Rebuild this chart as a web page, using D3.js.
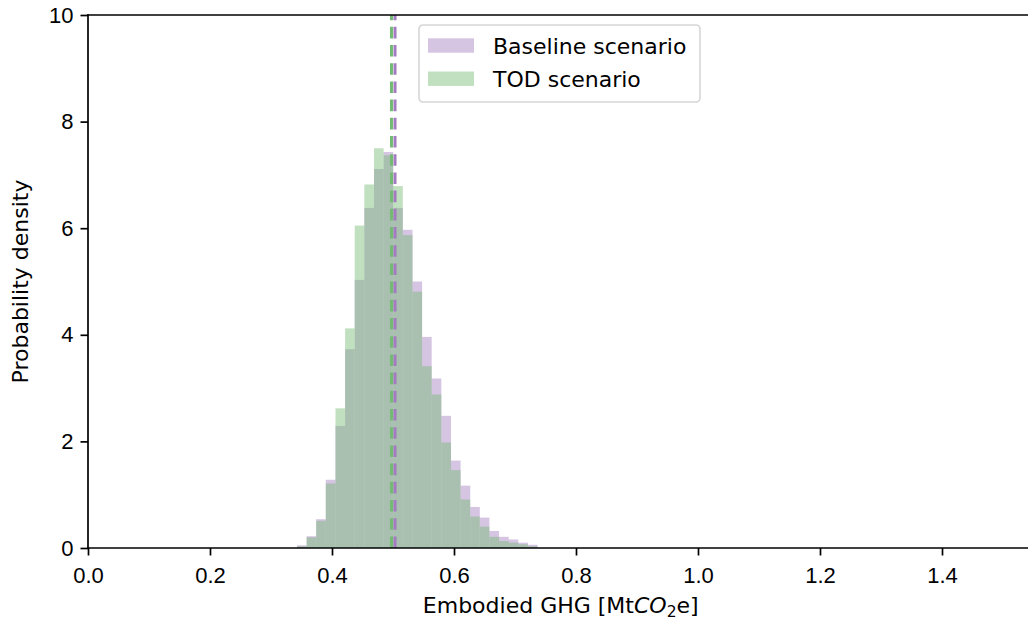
<!DOCTYPE html>
<html>
<head>
<meta charset="utf-8">
<script src="https://cdn.jsdelivr.net/npm/d3@7"></script>
<style>
  body { margin: 0; background: #fff; }
  svg { display: block; font-family: "DejaVu Sans", sans-serif; }
  .tick text { font-size: 22px; fill: #000; }
</style>
</head>
<body>
<svg width="1028" height="622"></svg>
<script>
//bin edges shared by both histograms (MtCO2e)
var binEdges = [0.3426, 0.3584, 0.3741, 0.3898, 0.4057, 0.4215, 0.4372, 0.4530, 0.4689,
    0.4846, 0.5003, 0.5161, 0.5320, 0.5477, 0.5634, 0.5792, 0.5951, 0.6108, 0.6266,
    0.6423, 0.6580, 0.6739, 0.6897, 0.7054, 0.7211, 0.7370];

//probability density per bin
var baselineDensity = [0.05, 0.22, 0.54, 1.28, 2.29, 3.73, 5.03, 6.38, 7.11, 7.43, 6.38, 5.97,
    5.00, 3.96, 3.18, 2.48, 1.64, 1.17, 0.77, 0.57, 0.32, 0.21, 0.16, 0.10, 0.06];
var todDensity = [0.03, 0.20, 0.51, 1.21, 2.62, 4.12, 6.05, 6.82, 7.50, 7.37, 6.79, 5.87,
    4.81, 3.41, 2.88, 1.98, 1.46, 0.91, 0.59, 0.40, 0.21, 0.13, 0.10, 0.07, 0.03];

//means (dashed lines)
var baselineMean = 0.5033,
    todMean = 0.4975;

var xTicks = [0.0, 0.2, 0.4, 0.6, 0.8, 1.0, 1.2, 1.4],
    yTicks = [0, 2, 4, 6, 8, 10];

var seriesNames = ["Baseline scenario", "TOD scenario"];

//colors
var purple = "rgb(162,124,191)",
    green = "rgb(115,186,115)",
    fillAlpha = 0.45;

var svg = d3.select("svg"),
    margin = {"left": 88, "top": 15, "right": 1033.5, "bottom": 548},
    xMax = 1.55;

//scales
var scaleX = d3.scaleLinear()
    .domain([0, xMax])
    .range([margin.left, margin.right]);
var scaleY = d3.scaleLinear()
    .domain([0, 10])
    .range([margin.bottom, margin.top]);

//histograms
function drawHist(values, color) {
    var g = svg.append("g");
    g.selectAll("rect")
        .data(values)
        .enter().append("rect")
        .attr("x", (d, i) => scaleX(binEdges[i]))
        .attr("width", (d, i) => scaleX(binEdges[i + 1]) - scaleX(binEdges[i]))
        .attr("y", d => scaleY(d))
        .attr("height", d => scaleY(0) - scaleY(d))
        .attr("fill", color)
        .attr("fill-opacity", fillAlpha);
}
drawHist(baselineDensity, purple);
drawHist(todDensity, green);

//mean lines
function drawMean(value, color) {
    svg.append("line")
        .attr("x1", scaleX(value))
        .attr("x2", scaleX(value))
        .attr("y1", scaleY(0))
        .attr("y2", scaleY(10))
        .attr("stroke", color)
        .attr("stroke-width", 3)
        .attr("stroke-dasharray", "11.6,6.6");
}
drawMean(todMean, green);
drawMean(baselineMean, purple);

//axes
var axisX = d3.axisBottom(scaleX)
    .tickValues(xTicks)
    .tickFormat(d3.format(".1f"))
    .tickSize(7.5)
    .tickPadding(7);
var axisY = d3.axisLeft(scaleY)
    .tickValues(yTicks)
    .tickFormat(d3.format("d"))
    .tickSize(7.5)
    .tickPadding(7);

var gAxisX = svg.append("g")
    .attr("transform", "translate(0," + scaleY(0) + ")")
    .call(axisX);
var gAxisY = svg.append("g")
    .attr("transform", "translate(" + scaleX(0) + ",0)")
    .call(axisY);
[gAxisX, gAxisY].forEach(g => {
    g.select(".domain").remove();
    g.selectAll(".tick line").attr("stroke", "#000").attr("stroke-width", 1.7);
});
gAxisX.selectAll(".tick text").attr("dy", "0.93em");

//spines
var spines = svg.append("g")
    .attr("stroke", "#000")
    .attr("stroke-width", 1.7)
    .attr("stroke-linecap", "square");
spines.append("line")
    .attr("x1", scaleX(0)).attr("x2", scaleX(0))
    .attr("y1", scaleY(0)).attr("y2", scaleY(10));
spines.append("line")
    .attr("x1", scaleX(0)).attr("x2", scaleX(xMax))
    .attr("y1", scaleY(0)).attr("y2", scaleY(0));
spines.append("line")
    .attr("x1", scaleX(0)).attr("x2", scaleX(xMax))
    .attr("y1", scaleY(10)).attr("y2", scaleY(10));

//x label
var xLabel = svg.append("text")
    .attr("x", (scaleX(0) + scaleX(xMax)) / 2)
    .attr("y", 613)
    .attr("text-anchor", "middle")
    .style("font-size", "22px");
xLabel.append("tspan").text("Embodied GHG [Mt");
xLabel.append("tspan").attr("font-style", "italic").text("CO");
xLabel.append("tspan").attr("font-size", "15.5px").attr("dy", 4).text("2");
xLabel.append("tspan").attr("dy", -4).text("e]");

//y label
svg.append("text")
    .attr("transform", "translate(28," + (scaleY(0) + scaleY(10)) / 2 + ") rotate(-90)")
    .attr("text-anchor", "middle")
    .style("font-size", "22px")
    .text("Probability density");

//legend
var legend = svg.append("g")
    .attr("transform", "translate(419,25)");
legend.append("rect")
    .attr("width", 281)
    .attr("height", 77)
    .attr("rx", 4)
    .attr("fill", "#fff")
    .attr("fill-opacity", 0.8)
    .attr("stroke", "#d6d6d6")
    .attr("stroke-width", 1.6);
var legendItems = legend.selectAll("g.item")
    .data(seriesNames)
    .enter().append("g")
    .attr("class", "item")
    .attr("transform", (d, i) => "translate(0," + (20.5 + i * 33.2) + ")");
legendItems.append("rect")
    .attr("x", 9)
    .attr("y", -7.2)
    .attr("width", 46)
    .attr("height", 14.4)
    .attr("fill", (d, i) => i === 0 ? purple : green)
    .attr("fill-opacity", fillAlpha);
legendItems.append("text")
    .attr("x", 74)
    .attr("y", 8)
    .style("font-size", "22px")
    .text(d => d);
</script>
</body>
</html>
